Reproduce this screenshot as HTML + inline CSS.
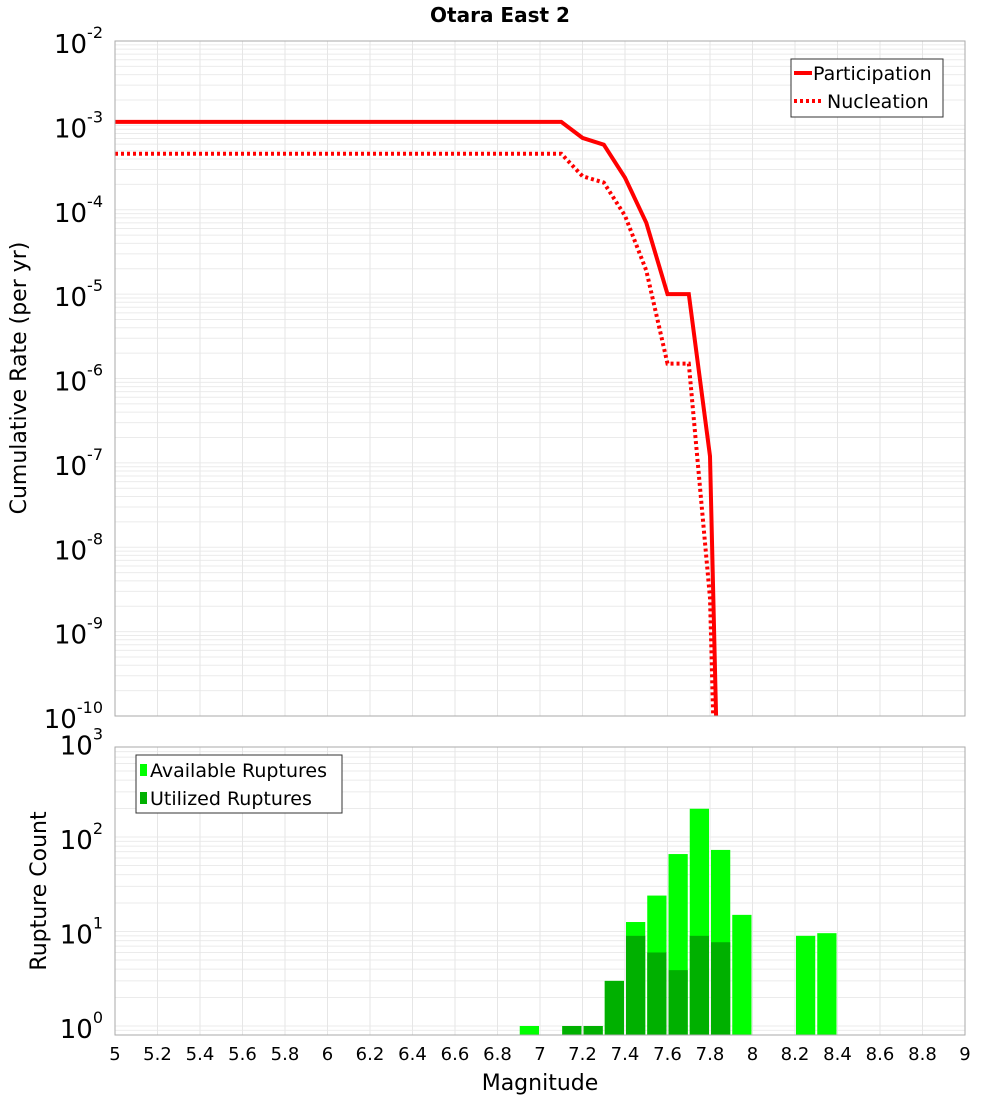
<!DOCTYPE html>
<html><head><meta charset="utf-8"><style>
body{margin:0;background:#fff;font-family:"Liberation Sans","DejaVu Sans",sans-serif}
</style></head><body>
<svg id="chart" width="1000" height="1100" xmlns="http://www.w3.org/2000/svg" style="font-family:'DejaVu Sans','Liberation Sans',sans-serif">
<defs><clipPath id="c1"><rect x="115" y="41" width="850" height="675"/></clipPath></defs>
<text x="500" y="22" text-anchor="middle" font-size="20" font-weight="bold">Otara East 2</text>
<g id="gtop"></g>
<g id="gbot"></g>
<g id="gx"></g>
<text transform="translate(26,378) rotate(-90)" text-anchor="middle" font-size="22">Cumulative Rate (per yr)</text>
<text transform="translate(46,891) rotate(-90)" text-anchor="middle" font-size="22">Rupture Count</text>
<text x="540" y="1090" text-anchor="middle" font-size="22">Magnitude</text>
</svg>
<script>
const mags=[5,7.1,7.2,7.3,7.4,7.5,7.6,7.7,7.8,7.9];
const participation=[1.1e-3,1.1e-3,7.1e-4,5.9e-4,2.4e-4,7e-5,1e-5,1e-5,1.2e-7,2e-18];
const nucleation=[4.6e-4,4.6e-4,2.5e-4,2.1e-4,8.5e-5,1.9e-5,1.5e-6,1.5e-6,2.5e-9,1e-18];
const binCenters=[6.95,7.15,7.25,7.35,7.45,7.55,7.65,7.75,7.85,7.95,8.25,8.35];
const available=[1,1,1,3,12.6,24,66,199,73,15,9,9.6];
const utilized=[0,1,1,3,9,6,3.9,9,7.7,0,0,0];
const xTicks=[5,5.2,5.4,5.6,5.8,6,6.2,6.4,6.6,6.8,7,7.2,7.4,7.6,7.8,8,8.2,8.4,8.6,8.8,9];
const topExps=[-2,-3,-4,-5,-6,-7,-8,-9,-10];
const botExps=[0,1,2,3];

const NS='http://www.w3.org/2000/svg';
const L=115,R=965,T1=41,B1=716,T2=747,B2=1035;
const xs=m=>L+(m-5)/4*(R-L);
const y1=v=>T1+(-2-Math.log10(v))/8*(B1-T1);
const D2=94.5;
const y2=v=>1026-Math.log10(v)*D2;
function mk(p,tag,a,txt){const e=document.createElementNS(NS,tag);for(const k in a)e.setAttribute(k,a[k]);if(txt!==undefined)e.textContent=txt;p.appendChild(e);return e;}
const gTop=document.getElementById('gtop'),gBot=document.getElementById('gbot'),gX=document.getElementById('gx');

function grid(g,T,B,yf,lo,hi){
 for(let e=lo;e<hi;e++)for(let k=1;k<10;k++){const yy=yf(k*Math.pow(10,e));if(yy<T||yy>B)continue;
  const l=mk(g,'line',{x1:L,x2:R,y1:yy,y2:yy,stroke:'#ebebeb','stroke-width':1});
  
  }
 xTicks.forEach(tk=>{const l=mk(g,'line',{x1:xs(tk),x2:xs(tk),y1:T,y2:B,stroke:'#e6e6e6','stroke-width':1});
  
  });
}
grid(gTop,T1,B1,y1,-10,-2);
grid(gBot,T2,B2,y2,-1,3);

function drawLine(arr,dash,name){
 const d=mags.map((m,i)=>(i?'L':'M')+xs(m).toFixed(1)+','+y1(arr[i]).toFixed(1)).join('');
 const p=mk(gTop,'path',{d:d,fill:'none',stroke:'#ff0000','stroke-width':4,'stroke-dasharray':dash,'clip-path':'url(#c1)'});
 
 
}
drawLine(nucleation,'3,3','nucleation-line');
drawLine(participation,'none','participation-line');
const f1=mk(gTop,'rect',{x:L,y:T1,width:R-L,height:B1-T1,fill:'none',stroke:'#aaa'});


topExps.forEach(e=>{const tx=mk(gTop,'text',{x:103,y:y1(Math.pow(10,e))+12,'text-anchor':'end','font-size':26});
 
 
 tx.textContent='10';mk(tx,'tspan',{'font-size':16,dy:-15},String(e));});

const bw=xs(0.1)-xs(0)-2;
binCenters.forEach((c,i)=>{
 const r=mk(gBot,'rect',{x:xs(c)-bw/2,y:y2(available[i]),width:bw,height:B2-y2(available[i]),fill:'#00ff00'});
 
 
 if(utilized[i]>0){const u=mk(gBot,'rect',{x:xs(c)-bw/2,y:y2(utilized[i]),width:bw,height:B2-y2(utilized[i]),fill:'#00b000'});
 
 }
});
const f2=mk(gBot,'rect',{x:L,y:T2,width:R-L,height:B2-T2,fill:'none',stroke:'#aaa'});


botExps.forEach(e=>{const tx=mk(gBot,'text',{x:103,y:y2(Math.pow(10,e))+12,'text-anchor':'end','font-size':26});
 
 
 tx.textContent='10';mk(tx,'tspan',{'font-size':16,dy:-15},String(e));});

xTicks.forEach(tk=>{const s=mk(gX,'text',{x:xs(tk),y:1060,'text-anchor':'middle','font-size':18},String(tk));
 
 });

const lg=mk(gTop,'g',{});


mk(lg,'rect',{x:791,y:59,width:152,height:58,fill:'#fff',stroke:'#333'});
mk(lg,'line',{x1:794,x2:812,y1:73,y2:73,stroke:'#f00','stroke-width':4});
mk(lg,'line',{x1:794,x2:822,y1:101,y2:101,stroke:'#f00','stroke-width':4,'stroke-dasharray':'3,3'});
let lt=mk(lg,'text',{x:813,y:80,'font-size':19},'Participation');


lt=mk(lg,'text',{x:827,y:108,'font-size':19},'Nucleation');


const lg2=mk(gBot,'g',{});


mk(lg2,'rect',{x:136,y:755,width:206,height:58,fill:'#fff',stroke:'#333'});
mk(lg2,'rect',{x:140,y:764,width:7,height:12,fill:'#00ff00'});
mk(lg2,'rect',{x:140,y:792,width:7,height:12,fill:'#00b000'});
lt=mk(lg2,'text',{x:150,y:777,'font-size':19},'Available Ruptures');


lt=mk(lg2,'text',{x:150,y:805,'font-size':19},'Utilized Ruptures');


</script>
</body></html>
